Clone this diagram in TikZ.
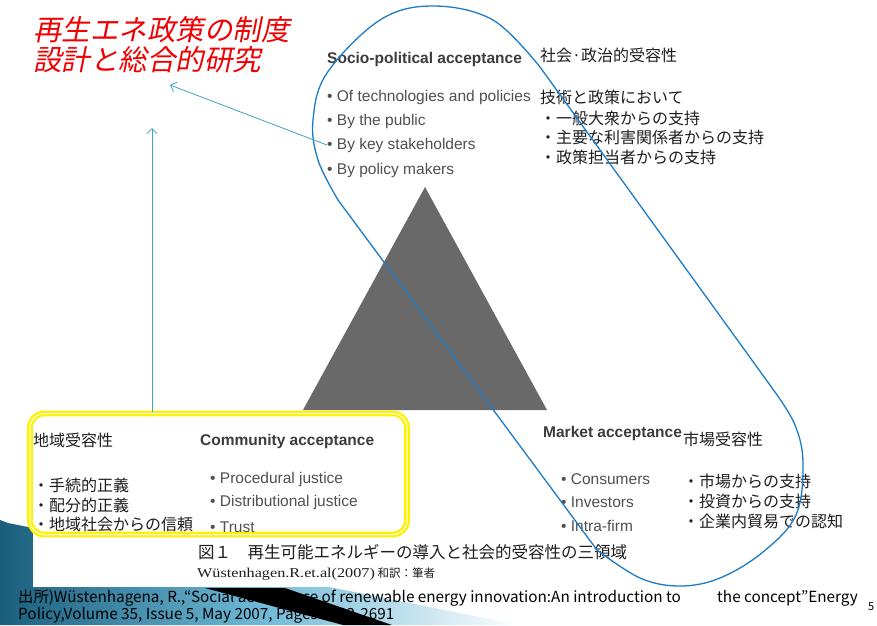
\documentclass[tikz,border=0pt]{standalone}
\usepackage{fontspec}
\setmainfont{Liberation Sans}
\newfontfamily\jp{Noto Sans CJK JP}
\newfontfamily\jpt[FakeSlant=0.2]{Noto Sans CJK JP}
\newfontfamily\capserif[FakeStretch=1.2]{Liberation Serif}
\usetikzlibrary{arrows.meta,shadings}
\definecolor{engray}{RGB}{60,60,60}
\definecolor{bulgray}{RGB}{80,80,80}
\definecolor{jpblack}{RGB}{30,30,30}
\definecolor{trigray}{RGB}{105,105,105}
\definecolor{loopblue}{RGB}{28,124,200}
\definecolor{arrcyan}{RGB}{58,166,200}
\definecolor{titlered}{RGB}{240,0,0}
\definecolor{banddark}{RGB}{25,95,125}
\definecolor{bandmid}{RGB}{110,185,215}
\tikzset{
  txt/.style={inner sep=0pt, anchor=west},
  enhead/.style={txt, text=engray, font=\fontsize{15.5}{17}\selectfont\bfseries},
  enbul/.style={txt, text=bulgray, font=\fontsize{15.5}{17}\selectfont},
  jptxt/.style={txt, text=jpblack, font=\fontsize{16}{18}\selectfont\jp},
  titletxt/.style={txt, text=titlered, font=\fontsize{28.5}{30}\selectfont\jpt},
  foot/.style={txt, text=black, font=\fontsize{15.3}{17}\selectfont\jp},
  arr/.style={draw=arrcyan, line width=0.8pt, -{Straight Barb[length=5pt,width=10pt]}},
  loopline/.style={draw=loopblue, line width=1.3pt},
  ybox/.style={draw=yellow, line width=2.4pt, double=white, double distance=1pt, rounded corners=14pt, inner sep=0pt}
}
\begin{document}
\begin{tikzpicture}[x=1pt,y=-1pt]
\useasboundingbox (0,0) rectangle (877,625);
% slide decoration
\shade[left color=banddark, right color=white, middle color=bandmid] (0,520) -- (8,523) -- (520,625) -- (0,625) -- cycle;
\fill[black] (205,588) -- (285,588) -- (392,625) -- (343,625) -- cycle;
\fill[white] (33,0) rectangle (877,587);
% triangle
\fill[trigray] (425,187) -- (547,410) -- (303,410) -- cycle;
% title
\node[titletxt] (t1) at (33,30) {再生エネ政策の制度};
\node[titletxt] (t2) at (33,60) {設計と総合的研究};
% socio-political
\node[enhead] (sph) at (327,59) {Socio-political acceptance};
\node[jptxt] (spj) at (540,55) {社会·政治的受容性};
\node[enbul] (sp1) at (327,97) {• Of technologies and policies};
\node[enbul] (sp2) at (327,121) {• By the public};
\node[enbul] (sp3) at (327,145) {• By key stakeholders};
\node[enbul] (sp4) at (327,170) {• By policy makers};
\node[jptxt] (spj0) at (540,97) {技術と政策において};
\node[jptxt] (spj1) at (540,118) {・一般大衆からの支持};
\node[jptxt] (spj2) at (540,137) {・主要な利害関係者からの支持};
\node[jptxt] (spj3) at (540,157) {・政策担当者からの支持};
% community
\node[ybox, minimum width=377pt, minimum height=121pt] (comm) at (218.5,474) {};
\node[jptxt] (cj) at (33,440) {地域受容性};
\node[enhead] (ch) at (200,441) {Community acceptance};
\node[jptxt] (cj1) at (33,485) {・手続的正義};
\node[jptxt] (cj2) at (33,505) {・配分的正義};
\node[jptxt] (cj3) at (33,524) {・地域社会からの信頼};
\node[enbul] (c1) at (210,479) {• Procedural justice};
\node[enbul] (c2) at (210,502) {• Distributional justice};
\node[enbul] (c3) at (210,527) {• Trust};
% market
\node[enhead] (mh) at (543,433) {Market acceptance};
\node[jptxt] (mj) at (683,439) {市場受容性};
\node[enbul] (m1) at (561,479) {• Consumers};
\node[enbul] (m2) at (561,502) {• Investors};
\node[enbul] (m3) at (561,526) {• Intra-firm};
\node[jptxt] (mj1) at (683,481) {・市場からの支持};
\node[jptxt] (mj2) at (683,501) {・投資からの支持};
\node[jptxt] (mj3) at (683,521) {・企業内貿易での認知};
% caption
\node[txt, text=jpblack, font=\fontsize{16.5}{18}\selectfont\jp] (cap1) at (198,552) {図１　再生可能エネルギーの導入と社会的受容性の三領域};
\node[txt, text=jpblack] (cap2) at (197,574) {{\fontsize{13.5}{15}\selectfont\capserif Wüstenhagen.R.et.al(2007)} {\fontsize{11.5}{13}\selectfont\jp 和訳：筆者}};
% loop
\draw[loopline] (597,550) -- (338,200)
  -- plot[smooth, tension=0.6] coordinates {(338,200) (318,160) (313,120) (327,73) (380,20) (433,6) (493,20) (540,67)}
  -- (775,392)
  -- plot[smooth, tension=0.6] coordinates {(775,392) (795,425) (803,463) (796,515) (763,552) (720,578) (680,586) (640,578) (597,550)}
  -- cycle;
% arrows
\coordinate (tgt) at (170,85);
\coordinate (up) at (152,128);
\draw[arr] (sp3.west) -- (tgt);
\draw[arr] (comm.north -| up) -- (up);
% footer
\node[foot] (f1) at (18,598) {\makebox[699pt][l]{出所)Wüstenhagena, R.,“Social acceptance of renewable energy innovation:An introduction to}the concept”Energy};
\node[foot] (f2) at (18,615) {Policy,Volume 35, Issue 5, May 2007, Pages 2683-2691};
\node[txt, text=black, font=\fontsize{11}{12}\selectfont\jp] (pg) at (868,607) {5};
\end{tikzpicture}
\end{document}
